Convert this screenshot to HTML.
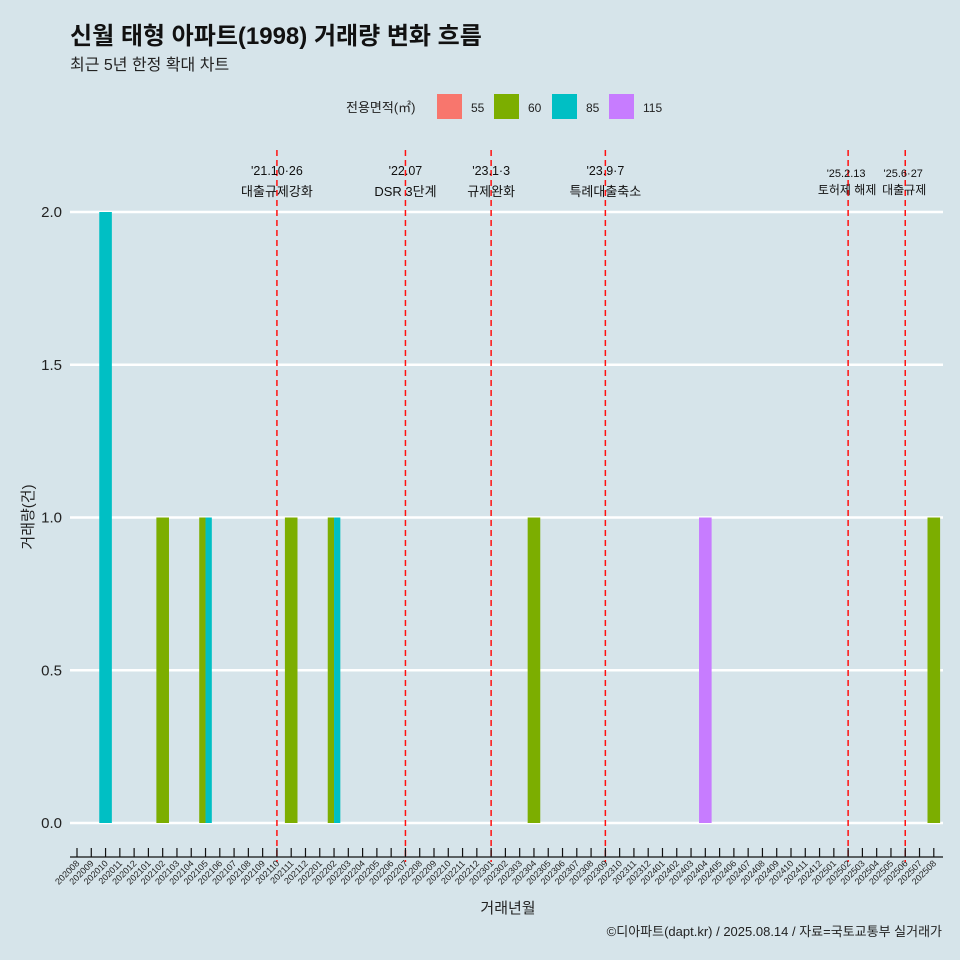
<!DOCTYPE html>
<html><head><meta charset="utf-8"><style>
html,body{margin:0;width:960px;height:960px;overflow:hidden;background:#d6e4ea;font-family:"Liberation Sans","Noto Sans CJK KR",sans-serif;}
svg{display:block}
svg text{font-family:"Liberation Sans","Noto Sans CJK KR",sans-serif;}
</style></head><body>
<svg id="c" width="960" height="960" xmlns="http://www.w3.org/2000/svg">
<rect width="960" height="960" fill="#d6e4ea"/>
<text x="70" y="44" font-size="24" font-weight="bold" fill="#111">신월 태형 아파트(1998) 거래량 변화 흐름</text>
<text x="70" y="70" font-size="16" fill="#222">최근 5년 한정 확대 차트</text>
<g id="legend"></g>
<g id="grid"></g><g id="bars"></g><g id="vl"></g><g id="xax"></g>
<text x="508" y="913" font-size="15" text-anchor="middle" fill="#222">거래년월</text>
<text transform="translate(33,517) rotate(-90)" font-size="15" text-anchor="middle" fill="#222">거래량(건)</text>
<text x="942" y="936" font-size="13" text-anchor="end" fill="#222">©디아파트(dapt.kr) / 2025.08.14 / 자료=국토교통부 실거래가</text>
</svg>
<script>
const months=[];for(let y=2020;y<=2025;y++)for(let m=1;m<=12;m++){const s=y+String(m).padStart(2,'0');if(s>='202008'&&s<='202508')months.push(s);}
const sizes=['55','60','85','115'];
const colors=['#f8766d','#7cae00','#00bfc4','#c77cff'];
const barMonths=['202010','202102','202105','202105','202111','202202','202202','202304','202404','202508'];
const barSizes=['85','60','60','85','60','60','85','60','115','60'];
const barValues=[2,1,1,1,1,1,1,1,1,1];
const yTicks=[0,0.5,1,1.5,2];
const yTickLabels=['0.0','0.5','1.0','1.5','2.0'];
const eventMonths=['202110','202207','202301','202309','202502','202506'];
const eventDates=["'21.10·26","'22.07","'23.1·3","'23.9·7","'25.2.13","'25.6·27"];
const eventLabels=['대출규제강화','DSR 3단계','규제완화','특례대출축소','토허제 해제','대출규제'];
const NS='http://www.w3.org/2000/svg';
const step=14.28, x0=77;
const X=m=>x0+months.indexOf(m)*step;
const Y=v=>823-v*305.5;
function el(t,a,p){const e=document.createElementNS(NS,t);for(const k in a)e.setAttribute(k,a[k]);document.getElementById(p).appendChild(e);return e;}
yTicks.forEach((v,i)=>{
 const l=el('line',{x1:70,x2:943,y1:Y(v),y2:Y(v),stroke:'#fff','stroke-width':2.5},'grid');
 
 
 const t=el('text',{x:62,y:Y(v)+5,'font-size':15,'text-anchor':'end',fill:'#222'},'grid');t.textContent=yTickLabels[i];
 
 
});
const bw=12.6;
barMonths.forEach((m,i)=>{
 const grp=barMonths.map((mm,j)=>j).filter(j=>barMonths[j]===m);
 const n=grp.length,k=grp.indexOf(i),w=bw/n;
 const r=el('rect',{x:X(m)-bw/2+k*w,y:Y(barValues[i]),width:w,height:Y(0)-Y(barValues[i]),fill:colors[sizes.indexOf(barSizes[i])]},'bars');
 
 
});
eventMonths.forEach((m,i)=>{
 const x=X(m),small=i>=4;
 const l=el('line',{x1:x,x2:x,y1:150,y2:862,stroke:'#ff1010','stroke-width':1.5,'stroke-dasharray':'6,4'},'vl');
 
 
 const t1=el('text',{x:x+(small?-2:0),y:small?177:175,'font-size':small?11:12.5,'text-anchor':'middle',fill:'#111'},'vl');t1.textContent=eventDates[i];
 
 
 const t2=el('text',{x:x+(small?-1:0),y:small?194:196,'font-size':small?12:13,'text-anchor':'middle',fill:'#111'},'vl');t2.textContent=eventLabels[i];
 
 
});
const ax=el('line',{x1:70,x2:943,y1:857,y2:857,stroke:'#111','stroke-width':1.2},'xax');


months.forEach(m=>{
 const x=X(m);
 const tk=el('line',{x1:x,x2:x,y1:848,y2:857,stroke:'#111','stroke-width':1.2},'xax');
 
 
 const t=el('text',{transform:`translate(${x+3},864) rotate(-45)`,'font-size':9,'text-anchor':'end',fill:'#222'},'xax');t.textContent=m;
 
 
});
const lt=el('text',{x:346,y:112,'font-size':13,fill:'#222'},'legend');lt.textContent='전용면적(㎡)';


const lx=[437,494,552,609];
sizes.forEach((s,i)=>{
 const r=el('rect',{x:lx[i],y:94,width:25,height:25,fill:colors[i]},'legend');
 
 
 const t=el('text',{x:lx[i]+34,y:112,'font-size':12,fill:'#222'},'legend');t.textContent=s;
 
 
});
</script>
</body></html>
